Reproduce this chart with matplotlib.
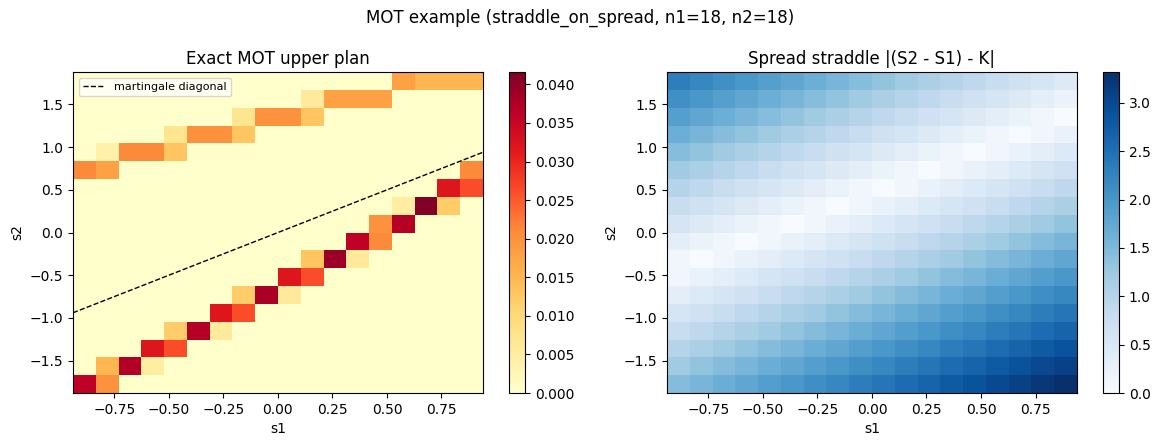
import numpy as np
import matplotlib
matplotlib.use("Agg")
import matplotlib.pyplot as plt

# grids (s1 first asset, s2 second asset)
s1 = [-0.94, -0.829, -0.719, -0.608, -0.498, -0.387, -0.276, -0.166, -0.055,
      0.055, 0.166, 0.276, 0.387, 0.498, 0.608, 0.719, 0.829, 0.94]
s2 = [-1.88, -1.659, -1.438, -1.216, -0.995, -0.774, -0.553, -0.332, -0.111,
      0.111, 0.332, 0.553, 0.774, 0.995, 1.216, 1.438, 1.659, 1.88]
K = 0.5

# nonzero entries of the upper plan (s2 index from bottom, s1 index, mass)
plan_j = [0, 0, 1, 1, 1, 2, 2, 3, 3, 3, 4, 4, 5, 5, 5, 6, 6, 7, 7, 7,
          8, 8, 9, 9, 10, 10, 10, 11, 11, 12, 12, 12, 13, 13, 13, 13,
          14, 14, 14, 14, 15, 15, 15, 15, 16, 16, 16, 16, 17, 17, 17, 17]
plan_i = [0, 1, 1, 2, 3, 3, 4, 4, 5, 6, 6, 7, 7, 8, 9, 9, 10, 10, 11, 12,
          12, 13, 13, 14, 14, 15, 16, 16, 17, 0, 1, 17, 1, 2, 3, 4,
          4, 5, 6, 7, 7, 8, 9, 10, 10, 11, 12, 13, 14, 15, 16, 17]
plan_m = [0.036, 0.020, 0.015, 0.037, 0.005, 0.032, 0.026, 0.012, 0.037, 0.006,
          0.032, 0.026, 0.012, 0.038, 0.006, 0.032, 0.026, 0.013, 0.039, 0.006,
          0.036, 0.021, 0.020, 0.037, 0.005, 0.0416, 0.012, 0.032, 0.026,
          0.021, 0.018, 0.021, 0.004, 0.021, 0.021, 0.013,
          0.007, 0.020, 0.020, 0.013, 0.007, 0.020, 0.020, 0.013,
          0.006, 0.018, 0.018, 0.018, 0.018, 0.015, 0.015, 0.015]

plan = np.zeros((len(s2), len(s1)))
for j, i, m in zip(plan_j, plan_i, plan_m):
    plan[j, i] = m

S1, S2 = np.meshgrid(s1, s2)
payoff = np.abs((S2 - S1) - K)

extent = [s1[0], s1[-1], s2[0], s2[-1]]

fig = plt.figure(figsize=(11.6, 4.46))
fig.suptitle("MOT example (straddle_on_spread, n1=18, n2=18)")

ax1 = fig.add_axes([0.0629, 0.1188, 0.3534, 0.7197])
cax1 = fig.add_axes([0.4388, 0.1188, 0.0138, 0.7197])
ax2 = fig.add_axes([0.5750, 0.1188, 0.3534, 0.7197])
cax2 = fig.add_axes([0.9509, 0.1188, 0.0138, 0.7197])

im = ax1.imshow(plan, origin="lower", aspect="auto", extent=extent,
                cmap="YlOrRd", interpolation="nearest")
ax1.plot([s1[0], s1[-1]], [s1[0], s1[-1]], "k--", lw=1, label="martingale diagonal")
ax1.set_xlim(s1[0], s1[-1])
ax1.set_ylim(s2[0], s2[-1])
ax1.set_title("Exact MOT upper plan")
ax1.set_xlabel("s1")
ax1.set_ylabel("s2")
ax1.legend(loc="upper left", fontsize=8)
fig.colorbar(im, cax=cax1)

im2 = ax2.imshow(payoff, origin="lower", aspect="auto", extent=extent,
                 cmap="Blues", interpolation="nearest", vmin=0)
ax2.set_title("Spread straddle |(S2 - S1) - K|")
ax2.set_xlabel("s1")
ax2.set_ylabel("s2")
fig.colorbar(im2, cax=cax2)

plt.savefig("out.png", dpi=100)
